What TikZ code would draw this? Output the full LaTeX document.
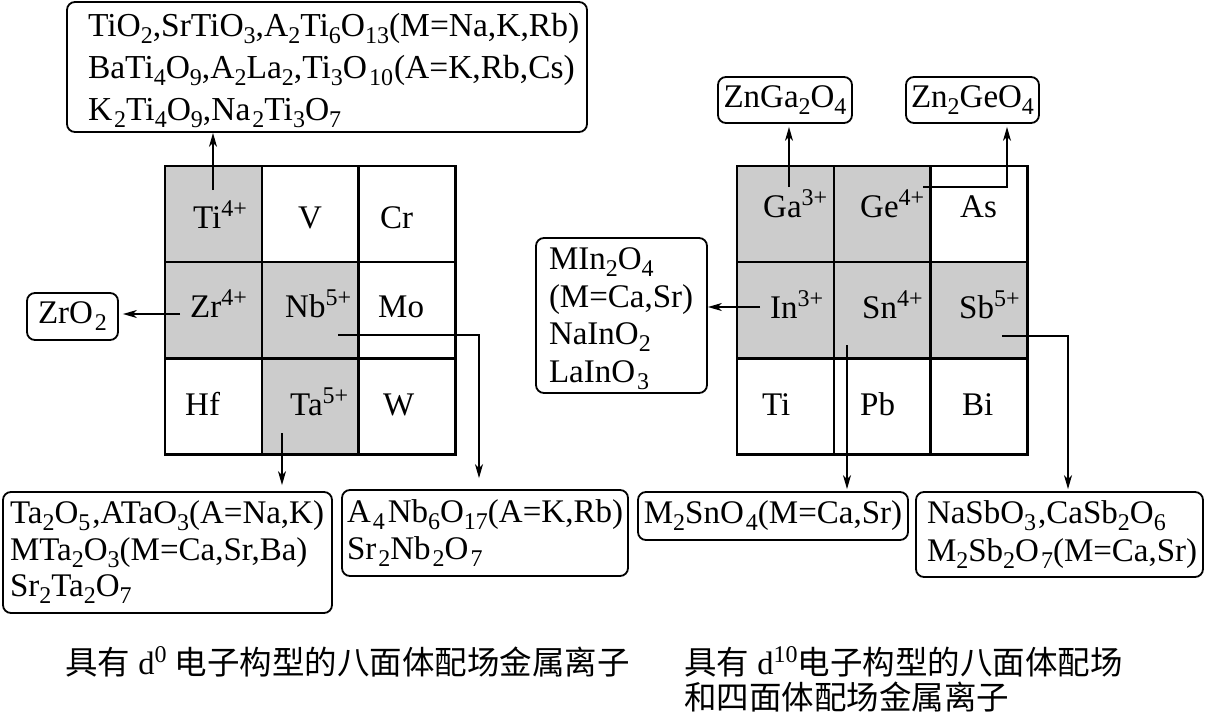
\documentclass[tikz,border=0pt]{standalone}
\usepackage{fontspec}
\setmainfont{Liberation Serif}
\newfontfamily\cjk{Noto Sans CJK SC}
\usetikzlibrary{arrows.meta}
\newcommand{\chsub}[1]{\raisebox{-7pt}{\fontsize{24}{24}\selectfont #1}}
\newcommand{\chsup}[1]{\raisebox{12pt}{\fontsize{24}{24}\selectfont #1}}
\definecolor{cellgray}{gray}{0.8}
\begin{document}
\begin{tikzpicture}[x=1pt,y=-1pt,
  font=\fontsize{33}{36.5}\selectfont,
  cell/.style={draw, line width=2.6pt, minimum width=97pt, minimum height=96.3pt, inner sep=0pt},
  shade/.style={cell, fill=cellgray},
  lbl/.style={anchor=base west, inner sep=0pt},
  box/.style={draw, rounded corners=8pt, line width=1.8pt, inner sep=0pt},
  arr/.style={line width=1.6pt, -{Stealth[length=14pt,width=8pt,inset=4pt]}}]
\useasboundingbox (0,0) rectangle (1205,713);

% ---------- left grid ----------
\node[shade] (c11) at (213.5,214) {};
\node[cell]  (c12) at (310.5,214) {};
\node[cell]  (c13) at (407,214) {};
\node[shade] (c21) at (213.5,310) {};
\node[shade] (c22) at (310.5,310) {};
\node[cell]  (c23) at (407,310) {};
\node[cell]  (c31) at (213.5,406.5) {};
\node[shade] (c32) at (310.5,406.5) {};
\node[cell]  (c33) at (407,406.5) {};

\node[lbl] (l-ti) at (193,228) {Ti\chsup{4+}};
\node[lbl] (l-v)  at (298,228) {V};
\node[lbl] (l-cr) at (380,228) {Cr};
\node[lbl] (l-zr) at (190,317) {Zr\chsup{4+}};
\node[lbl] (l-nb) at (285,317) {Nb\chsup{5+}};
\node[lbl] (l-mo) at (378,317) {Mo};
\node[lbl] (l-hf) at (185,415) {Hf};
\node[lbl] (l-ta) at (290,415) {Ta\chsup{5+}};
\node[lbl] (l-w)  at (383,415) {W};

% ---------- right grid ----------
\node[shade] (d11) at (785.5,214) {};
\node[shade] (d12) at (882.5,214) {};
\node[cell]  (d13) at (979,214) {};
\node[shade] (d21) at (785.5,310) {};
\node[shade] (d22) at (882.5,310) {};
\node[shade] (d23) at (979,310) {};
\node[cell]  (d31) at (785.5,406.5) {};
\node[cell]  (d32) at (882.5,406.5) {};
\node[cell]  (d33) at (979,406.5) {};

\node[lbl] (r-ga) at (763,217) {Ga\chsup{3+}};
\node[lbl] (r-ge) at (860,217) {Ge\chsup{4+}};
\node[lbl] (r-as) at (960,217) {As};
\node[lbl] (r-in) at (770,318) {In\chsup{3+}};
\node[lbl] (r-sn) at (862,318) {Sn\chsup{4+}};
\node[lbl] (r-sb) at (959,318) {Sb\chsup{5+}};
\node[lbl] (r-ti) at (762,415) {Ti};
\node[lbl] (r-pb) at (860,415) {Pb};
\node[lbl] (r-bi) at (962,415) {Bi};

% ---------- boxes ----------
\node[box, minimum width=520pt, minimum height=130pt, text width=478pt, inner xsep=21pt, align=left,
      font=\fontsize{33.5}{42}\selectfont] (top) at (327,67)
  {\rule{0pt}{31pt}TiO\chsub{2},SrTiO\chsub{3},A\chsub{2}Ti\chsub{6}O\chsub{13}(M=Na,K,Rb)\\
   BaTi\chsub{4}O\chsub{9},A\chsub{2}La\chsub{2},Ti\chsub{3}O\kern2pt\chsub{10}\kern1pt(A=K,Rb,Cs)\\
   K\kern2pt\chsub{2}Ti\chsub{4}O\chsub{9},Na\kern2pt\chsub{2}Ti\chsub{3}O\chsub{7}};

\node[box, minimum width=91pt, minimum height=47pt] (zro2) at (72.5,316.5) {ZrO\kern2pt\chsub{2}};

\node[box, minimum width=329pt, minimum height=121pt, text width=315pt, inner xsep=7pt, align=left] (ta) at (167.5,552.5)
  {Ta\chsub{2}O\chsub{5}\kern2pt,ATaO\chsub{3}(A=Na,K)\\
   MTa\chsub{2}O\chsub{3}(M=Ca,Sr,Ba)\\
   Sr\chsub{2}Ta\chsub{2}O\chsub{7}};

\node[box, minimum width=286pt, minimum height=86pt, text width=276pt, inner xsep=5pt, align=left] (nb) at (485,533)
  {A\kern2pt\chsub{4}\kern3pt Nb\chsub{6}O\chsub{17}(A=K,Rb)\\
   Sr\kern2pt\chsub{2}Nb\kern2pt\chsub{2}O\kern2pt\chsub{7}};

\node[box, minimum width=134pt, minimum height=46pt] (znga) at (785,100) {ZnGa\chsub{2}O\chsub{4}};
\node[box, minimum width=133pt, minimum height=46pt] (znge) at (972.5,100) {Zn\chsub{2}GeO\chsub{4}};

\node[box, minimum width=171pt, minimum height=155pt, text width=145pt, inner xsep=13pt, align=left,
      font=\fontsize{33}{37.5}\selectfont] (inb) at (621.5,315.5)
  {\rule{0pt}{28pt}MIn\chsub{2}O\chsub{4}\\
   (M=Ca,Sr)\\
   NaInO\chsub{2}\\
   LaInO\kern2pt\chsub{3}};

\node[box, minimum width=270pt, minimum height=48pt] (sn) at (773,516)
  {M\chsub{2}SnO\kern2pt\chsub{4}(M=Ca,Sr)};

\node[box, minimum width=287pt, minimum height=85pt, text width=265pt, inner xsep=11pt, align=left,
      font=\fontsize{33}{38}\selectfont] (sb) at (1059.5,534.5)
  {NaSbO\chsub{3}\kern2pt,CaSb\chsub{2}O\chsub{6}\\
   M\chsub{2}Sb\chsub{2}O\kern2pt\chsub{7}(M=Ca,Sr)};

% ---------- connectors ----------
\coordinate (ti-c) at (213,190);
\draw[arr] (ti-c) -- (ti-c |- top.south);
\coordinate (zr-c) at (180,314);
\draw[arr, shorten >=4pt] (zr-c) -- (zr-c -| zro2.east);
\coordinate (nb-c) at (338,335);
\draw[arr] (nb-c) -| ([xshift=-6pt,yshift=11pt]nb.north);
\coordinate (ta-c) at (282,433);
\draw[arr, shorten >=6pt] (ta-c) -- (ta-c |- ta.north);

\coordinate (ga-c) at (789,187);
\draw[arr, shorten >=3pt] (ga-c) -- (ga-c |- znga.south);
\coordinate (ge-c) at (923,187);
\draw[arr, shorten >=3pt] (ge-c) -| ([xshift=34.5pt]znge.south);
\coordinate (in-c) at (760,307);
\draw[arr] (in-c) -- (in-c -| inb.east);
\coordinate (sn-c) at (847,345);
\draw[arr, shorten >=2pt] (sn-c) -- (sn-c |- sn.north);
\coordinate (sb-c) at (1002,336);
\draw[arr, shorten >=2pt] (sb-c) -| ([xshift=8.5pt]sb.north);

% ---------- captions ----------
\node[lbl, font=\fontsize{32.5}{35}\selectfont] (cap1) at (65,674)
  {{\cjk 具有} d\chsup{0} {\cjk 电子构型的八面体配场金属离子}};
\node[lbl, font=\fontsize{32.5}{35}\selectfont] (cap2) at (684,674)
  {{\cjk 具有} d\chsup{10}{\cjk 电子构型的八面体配场}};
\node[lbl, font=\fontsize{32.5}{35}\selectfont] (cap3) at (684,709)
  {{\cjk 和四面体配场金属离子}};
\end{tikzpicture}
\end{document}
